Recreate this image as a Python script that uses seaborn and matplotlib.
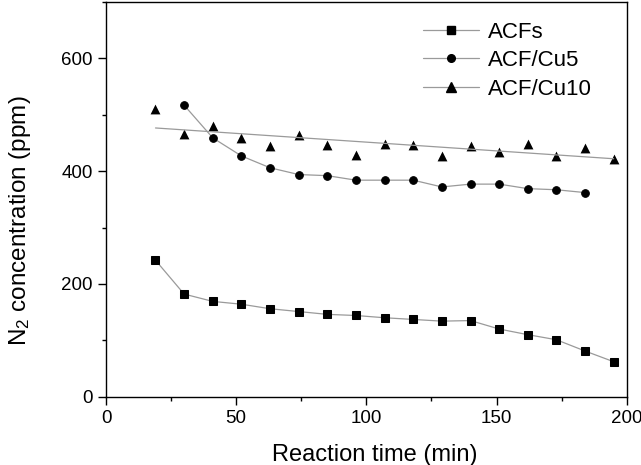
import matplotlib
matplotlib.use('Agg')
import matplotlib.pyplot as plt
from matplotlib.lines import Line2D
from matplotlib.ticker import MultipleLocator
import pandas as pd
import seaborn as sns

# reaction time (min) and N2 concentration (ppm)
time_acfs = [19, 30, 41, 52, 63, 74, 85, 96, 107, 118, 129, 140, 151, 162, 173, 184, 195]
n2_acfs = [242, 182, 169, 164, 156, 151, 146, 144, 140, 137, 134, 135, 120, 110, 101, 81, 62]

time_cu5 = [30, 41, 52, 63, 74, 85, 96, 107, 118, 129, 140, 151, 162, 173, 184]
n2_cu5 = [517, 459, 427, 406, 394, 392, 384, 384, 384, 372, 377, 377, 369, 367, 362]

time_cu10 = [19, 30, 41, 52, 63, 74, 85, 96, 107, 118, 129, 140, 151, 162, 173, 184, 195]
n2_cu10 = [511, 466, 480, 459, 444, 465, 447, 429, 449, 446, 427, 444, 434, 448, 426, 441, 422]

labels = ['ACFs', 'ACF/Cu5', 'ACF/Cu10']

sns.set_style("ticks")
plt.rcParams['font.family'] = ['Liberation Sans', 'DejaVu Sans']
plt.rcParams['mathtext.fontset'] = 'custom'
plt.rcParams['mathtext.rm'] = 'Liberation Sans'
plt.rcParams['mathtext.it'] = 'Liberation Sans:italic'
plt.rcParams['text.color'] = 'black'
plt.rcParams['axes.labelcolor'] = 'black'

line_col = '#9a9a9a'

fig = plt.figure(figsize=(6.41, 4.65), dpi=100)
ax = fig.add_axes([0.1654, 0.1469, 0.8123, 0.8488])

df1 = pd.DataFrame({'t': time_acfs, 'c': n2_acfs})
df2 = pd.DataFrame({'t': time_cu5, 'c': n2_cu5})
df3 = pd.DataFrame({'t': time_cu10, 'c': n2_cu10})

sns.lineplot(data=df1, x='t', y='c', ax=ax, color=line_col, lw=0.9, marker='s',
             markersize=5.5, markerfacecolor='black', markeredgecolor='black')
sns.lineplot(data=df2, x='t', y='c', ax=ax, color=line_col, lw=0.9, marker='o',
             markersize=5.5, markerfacecolor='black', markeredgecolor='black')
# ACF/Cu10 drawn with a linear fit through the points
sns.regplot(data=df3, x='t', y='c', ax=ax, ci=None, marker='^',
            scatter_kws={'s': 50, 'color': 'black', 'linewidths': 0, 'alpha': 1},
            line_kws={'color': line_col, 'lw': 0.9})

ax.set_xlim(0, 200)
ax.set_ylim(0, 700)
ax.xaxis.set_major_locator(MultipleLocator(50))
ax.xaxis.set_minor_locator(MultipleLocator(25))
ax.yaxis.set_major_locator(MultipleLocator(200))
ax.yaxis.set_minor_locator(MultipleLocator(100))
ax.tick_params(which='major', direction='out', length=5.5, width=1, labelsize=13.5, pad=4, colors='black')
ax.tick_params(which='minor', direction='out', length=3, width=1, colors='black')
for s in ax.spines.values():
    s.set_visible(True)
    s.set_linewidth(1.0)
    s.set_color('black')

ax.set_xlabel('Reaction time (min)', fontsize=17)
ax.set_ylabel('N$_2$ concentration (ppm)', fontsize=17.5)
ax.xaxis.set_label_coords(0.516, -0.12)
ax.yaxis.set_label_coords(-0.14, 0.445)

handles = [
    Line2D([], [], color=line_col, lw=0.9, marker='s', markersize=5.5, mfc='black', mec='black'),
    Line2D([], [], color=line_col, lw=0.9, marker='o', markersize=5.5, mfc='black', mec='black'),
    Line2D([], [], color=line_col, lw=0.9, marker='^', markersize=7, mfc='black', mec='black'),
]
ax.legend(handles, labels, loc='upper left', bbox_to_anchor=(0.66, 0.953),
          bbox_transform=fig.transFigure, frameon=False, fontsize=16,
          handlelength=2.5, handletextpad=0.4, labelspacing=0.33,
          borderpad=0, borderaxespad=0, numpoints=1)

plt.savefig('out.png', dpi=100)
